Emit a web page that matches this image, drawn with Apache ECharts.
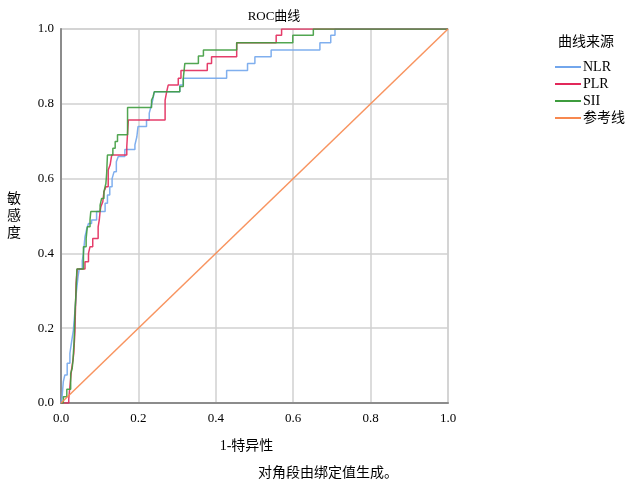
<!DOCTYPE html>
<html>
<head>
<meta charset="utf-8">
<script src="https://cdn.jsdelivr.net/npm/echarts@6/dist/echarts.min.js"></script>
<style>
html, body { margin: 0; padding: 0; background: #fff; }
#rocChart { width: 632px; height: 487px; }
</style>
</head>
<body>
<div id="rocChart"></div>
<script>
// 刻度
const tickLabels = ['0.0', '0.2', '0.4', '0.6', '0.8', '1.0']
const legendNames = ['NLR', 'PLR', 'SII', '参考线']

// ROC 阶梯折点 [1-特异性, 敏感度]
const nlrPoints = [[0,0],[0.003,0],[0.003,0.019],[0.006,0.019],[0.006,0.057],[0.010,0.057],[0.010,0.075],[0.016,0.075],[0.016,0.106],[0.023,0.106],[0.023,0.133],[0.028,0.133],[0.028,0.168],[0.032,0.168],[0.032,0.195],[0.036,0.195],[0.036,0.245],[0.040,0.245],[0.040,0.30],[0.044,0.30],[0.044,0.338],[0.047,0.338],[0.047,0.358],[0.055,0.358],[0.055,0.38],[0.058,0.38],[0.058,0.40],[0.062,0.40],[0.062,0.445],[0.066,0.445],[0.066,0.463],[0.071,0.463],[0.071,0.48],[0.079,0.48],[0.079,0.489],[0.092,0.489],[0.092,0.512],[0.114,0.512],[0.114,0.534],[0.120,0.534],[0.120,0.556],[0.126,0.556],[0.126,0.578],[0.132,0.578],[0.132,0.60],[0.137,0.60],[0.137,0.618],[0.143,0.618],[0.143,0.645],[0.148,0.645],[0.148,0.659],[0.165,0.659],[0.165,0.678],[0.191,0.678],[0.191,0.69],[0.196,0.69],[0.196,0.712],[0.199,0.712],[0.199,0.739],[0.221,0.739],[0.221,0.757],[0.228,0.757],[0.228,0.775],[0.232,0.775],[0.232,0.79],[0.237,0.79],[0.237,0.81],[0.241,0.81],[0.241,0.832],[0.307,0.832],[0.307,0.85],[0.316,0.85],[0.316,0.868],[0.428,0.868],[0.428,0.889],[0.482,0.889],[0.482,0.908],[0.501,0.908],[0.501,0.926],[0.543,0.926],[0.543,0.944],[0.669,0.944],[0.669,0.963],[0.697,0.963],[0.697,0.983],[0.708,0.983],[0.708,1],[1,1]]
const plrPoints = [[0,0],[0.02,0],[0.02,0.01],[0.023,0.01],[0.023,0.044],[0.027,0.044],[0.027,0.088],[0.031,0.088],[0.031,0.115],[0.033,0.115],[0.033,0.133],[0.036,0.133],[0.036,0.191],[0.039,0.191],[0.039,0.32],[0.042,0.32],[0.042,0.358],[0.062,0.358],[0.062,0.378],[0.071,0.378],[0.071,0.40],[0.075,0.40],[0.075,0.418],[0.082,0.418],[0.082,0.44],[0.096,0.44],[0.096,0.471],[0.099,0.471],[0.099,0.49],[0.101,0.49],[0.101,0.512],[0.103,0.512],[0.103,0.525],[0.108,0.525],[0.108,0.538],[0.111,0.538],[0.111,0.565],[0.116,0.565],[0.116,0.578],[0.122,0.578],[0.122,0.623],[0.127,0.623],[0.127,0.637],[0.131,0.637],[0.131,0.663],[0.170,0.663],[0.170,0.686],[0.174,0.686],[0.174,0.757],[0.269,0.757],[0.269,0.81],[0.273,0.81],[0.273,0.832],[0.277,0.832],[0.277,0.85],[0.303,0.85],[0.303,0.868],[0.310,0.868],[0.310,0.889],[0.378,0.889],[0.378,0.908],[0.389,0.908],[0.389,0.926],[0.454,0.926],[0.454,0.963],[0.556,0.963],[0.556,0.983],[0.570,0.983],[0.570,1],[1,1]]
const siiPoints = [[0,0],[0.006,0],[0.006,0.017],[0.015,0.017],[0.015,0.037],[0.025,0.037],[0.025,0.079],[0.029,0.079],[0.029,0.093],[0.031,0.093],[0.031,0.115],[0.034,0.115],[0.034,0.168],[0.036,0.168],[0.036,0.24],[0.039,0.24],[0.039,0.30],[0.041,0.30],[0.041,0.358],[0.058,0.358],[0.058,0.418],[0.065,0.418],[0.065,0.44],[0.068,0.44],[0.068,0.471],[0.075,0.471],[0.075,0.49],[0.077,0.49],[0.077,0.512],[0.101,0.512],[0.101,0.529],[0.105,0.529],[0.105,0.547],[0.111,0.547],[0.111,0.565],[0.116,0.565],[0.116,0.587],[0.118,0.587],[0.118,0.614],[0.120,0.614],[0.120,0.663],[0.134,0.663],[0.134,0.681],[0.140,0.681],[0.140,0.699],[0.146,0.699],[0.146,0.717],[0.172,0.717],[0.172,0.79],[0.234,0.79],[0.234,0.81],[0.238,0.81],[0.238,0.819],[0.241,0.819],[0.241,0.832],[0.307,0.832],[0.307,0.846],[0.316,0.846],[0.316,0.868],[0.320,0.868],[0.320,0.908],[0.355,0.908],[0.355,0.928],[0.368,0.928],[0.368,0.944],[0.454,0.944],[0.454,0.963],[0.599,0.963],[0.599,0.983],[0.652,0.983],[0.652,1],[1,1]]
const refPoints = [[0,0],[1,1]]

const serif = '"Liberation Serif", "Noto Sans CJK SC", serif'

const rocChart = echarts.init(document.getElementById('rocChart'))

function rocSeries (name, data, color) {
    return {
        name: name,
        type: 'line',
        data: data,
        symbol: 'none',
        smooth: false,
        lineStyle: {
            color: color,
            width: 1.5,
            opacity: 0.9
        },
        itemStyle: { color: color }
    }
}

const option = {
    backgroundColor: '#fff',
    animation: false,
    textStyle: { fontFamily: serif },
    title: {
        text: 'ROC曲线',
        left: 269,
        top: 5,
        textAlign: 'center',
        textStyle: { fontFamily: serif, fontSize: 13, fontWeight: 'normal', color: '#000' }
    },
    legend: {
        data: legendNames,
        orient: 'vertical',
        left: 550,
        top: 55,
        icon: 'rect',
        itemWidth: 26,
        itemHeight: 2,
        itemGap: 3,
        textStyle: { fontFamily: serif, fontSize: 14, color: '#000', padding: [0, 0, 0, -3] }
    },
    graphic: [{
        type: 'text',
        left: 558,
        top: 35,
        style: { text: '曲线来源', font: '14px ' + serif, fill: '#000' }
    }, {
        type: 'text',
        left: 258,
        top: 466,
        style: { text: '对角段由绑定值生成。', font: '14px ' + serif, fill: '#000' }
    }],
    grid: {
        left: 61,
        top: 29,
        width: 387,
        height: 374,
        show: true,
        borderColor: '#d4d4d4',
        borderWidth: 1.5
    },
    xAxis: {
        type: 'value',
        min: 0,
        max: 1,
        interval: 0.2,
        name: '1-特异性',
        nameLocation: 'middle',
        nameGap: 36,
        nameTextStyle: { fontFamily: serif, fontSize: 14, color: '#000', padding: [0, 16, 0, 0] },
        axisLine: { show: true, onZero: false, lineStyle: { color: '#8c8c8c', width: 2 } },
        axisTick: { show: false },
        axisLabel: {
            color: '#000',
            fontSize: 13,
            fontFamily: serif,
            margin: 9,
            formatter: function (v) { return tickLabels[Math.round(v * 5)] }
        },
        splitLine: { show: true, lineStyle: { color: '#d0d0d0', width: 1.5 } }
    },
    yAxis: {
        type: 'value',
        min: 0,
        max: 1,
        interval: 0.2,
        name: '敏\n感\n度',
        nameLocation: 'middle',
        nameRotate: 0,
        nameGap: 40,
        nameTextStyle: { fontFamily: serif, fontSize: 14, color: '#000', lineHeight: 17 },
        axisLine: { show: true, onZero: false, lineStyle: { color: '#8c8c8c', width: 2 } },
        axisTick: { show: false },
        axisLabel: {
            color: '#000',
            fontSize: 13,
            fontFamily: serif,
            margin: 7,
            formatter: function (v) { return tickLabels[Math.round(v * 5)] }
        },
        splitLine: { show: true, lineStyle: { color: '#d0d0d0', width: 1.5 } }
    },
    series: [
        rocSeries('NLR', nlrPoints, '#72a6ec'),
        rocSeries('PLR', plrPoints, '#e2285a'),
        rocSeries('SII', siiPoints, '#3e9c3e'),
        rocSeries('参考线', refPoints, '#f7884f')
    ]
}

rocChart.setOption(option)
</script>
</body>
</html>
